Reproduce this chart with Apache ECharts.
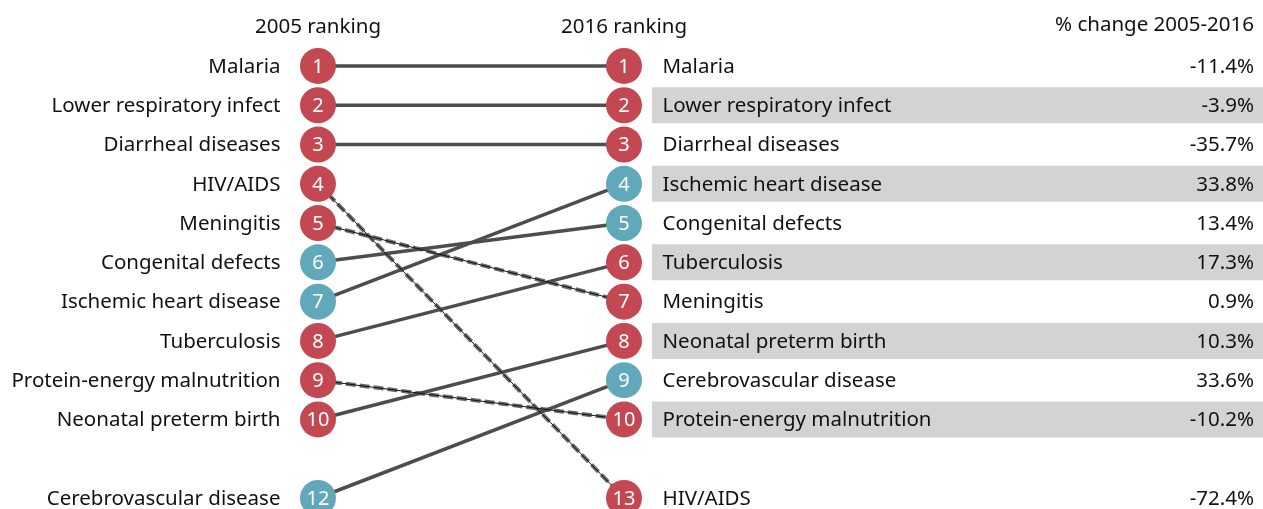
<!DOCTYPE html>
<html>
<head>
<meta charset="utf-8">
<script src="https://cdn.jsdelivr.net/npm/echarts@6/dist/echarts.min.js"></script>
<style>
  html, body { margin: 0; padding: 0; background: #fff; }
  #main { width: 1263px; height: 509px; }
</style>
</head>
<body>
<div id="main"></div>
<script>
// data, in 2005 order
var diseases = ['Malaria', 'Lower respiratory infect', 'Diarrheal diseases', 'HIV/AIDS', 'Meningitis',
    'Congenital defects', 'Ischemic heart disease', 'Tuberculosis', 'Protein-energy malnutrition',
    'Neonatal preterm birth', 'Cerebrovascular disease'];
var rank2005 = [1, 2, 3, 4, 5, 6, 7, 8, 9, 10, 12];
var rank2016 = [1, 2, 3, 13, 7, 5, 4, 6, 10, 8, 9];
var pctChange = [-11.4, -3.9, -35.7, -72.4, 0.9, 13.4, 33.8, 17.3, -10.2, 10.3, 33.6];
var groups = ['comm', 'comm', 'comm', 'comm', 'comm', 'ncd', 'ncd', 'comm', 'comm', 'comm', 'ncd'];
var headers = ['2005 ranking', '2016 ranking', '% change 2005-2016'];

var groupColor = { comm: '#c44852', ncd: '#62a8bb' };
var FONT = 'Noto Sans';
var FS = 20.5;
var TXT = '#111';
var HIDDEN = { color: 'rgba(0,0,0,0)', opacity: 1 };

// ranks past the top ten go in a row after a blank gap
function toSlot(r) {
    return r <= 10 ? r : 12;
}

var myChart = echarts.init(document.getElementById('main'));

var series = [];

// connecting lines
diseases.forEach(function (name, i) {
    var pts = [[0, toSlot(rank2005[i])], [1, toSlot(rank2016[i])]];
    if (rank2016[i] > rank2005[i]) {
        series.push({
            type: 'line', data: pts, symbol: 'none', silent: true, z: 1,
            lineStyle: { color: '#6a6a6a', width: 4, type: [10, 4] }
        });
        series.push({
            type: 'line', data: pts, symbol: 'none', silent: true, z: 2,
            lineStyle: { color: '#111', width: 1 }
        });
    } else {
        series.push({
            type: 'line', data: pts, symbol: 'none', silent: true, z: 1,
            lineStyle: { color: '#4d4d4d', width: 3.5 }
        });
    }
});

// circles with rank numbers
[rank2005, rank2016].forEach(function (ranks, col) {
    series.push({
        type: 'scatter', z: 5, symbolSize: 36, silent: true,
        data: ranks.map(function (r, i) {
            return { value: [col, toSlot(r)], rank: r,
                itemStyle: { color: groupColor[groups[i]], opacity: 1 } };
        }),
        label: {
            show: true, position: 'inside', color: '#fff', fontFamily: FONT, fontSize: 20, offset: [0, 1],
            formatter: function (p) { return p.data.rank; }
        }
    });
});

// disease names
series.push({
    type: 'scatter', symbolSize: 1, itemStyle: HIDDEN, silent: true,
    data: diseases.map(function (n, i) { return { value: [0, toSlot(rank2005[i])], name: n }; }),
    label: { show: true, position: 'left', distance: 37, offset: [0, 1], color: TXT, opacity: 1,
        fontFamily: FONT, fontSize: FS, formatter: '{b}' }
});
series.push({
    type: 'scatter', symbolSize: 1, itemStyle: HIDDEN, silent: true, z: 4,
    data: diseases.map(function (n, i) { return { value: [1, toSlot(rank2016[i])], name: n }; }),
    label: { show: true, position: 'right', distance: 38, offset: [0, 1], color: TXT, opacity: 1,
        fontFamily: FONT, fontSize: FS, formatter: '{b}' }
});

// headers
series.push({
    type: 'scatter', symbolSize: 1, itemStyle: HIDDEN, silent: true,
    data: [{ value: [0, 0], name: headers[0] }, { value: [1, 0], name: headers[1] }],
    label: { show: true, position: 'inside', color: TXT, opacity: 1, fontFamily: FONT, fontSize: FS,
        formatter: '{b}' }
});

// striped table on the right: bands and % change
series.push({
    type: 'custom', clip: false, silent: true, z: 0,
    data: rank2016.map(function (r, i) { return [1, toSlot(r), pctChange[i]]; }),
    renderItem: function (params, api) {
        var slot = api.value(1);
        var p = api.coord([1, slot]);
        var w = api.getWidth();
        var children = [];
        if (slot <= 10 && slot % 2 === 0) {
            children.push({
                type: 'rect',
                shape: { x: p[0] + 28, y: p[1] - 18, width: w - p[0] - 28, height: 36 },
                style: { fill: '#d3d3d3' }
            });
        }
        children.push({
            type: 'text', x: w - 9, y: p[1] + 1,
            style: {
                text: api.value(2).toFixed(1) + '%', align: 'right', verticalAlign: 'middle',
                fill: TXT, fontFamily: FONT, fontSize: FS
            }
        });
        return { type: 'group', children: children };
    }
});

var option = {
    animation: false,
    grid: { left: 165, right: 486, top: 26.7, bottom: 11 },
    xAxis: { type: 'category', data: ['2005', '2016'], show: false },
    yAxis: { type: 'value', inverse: true, min: 0, max: 12, show: false },
    graphic: [{
        type: 'text', right: 9, top: 15,
        style: { text: headers[2], fill: TXT, fontFamily: FONT, fontSize: FS }
    }],
    series: series
};
myChart.setOption(option);
</script>
</body>
</html>
